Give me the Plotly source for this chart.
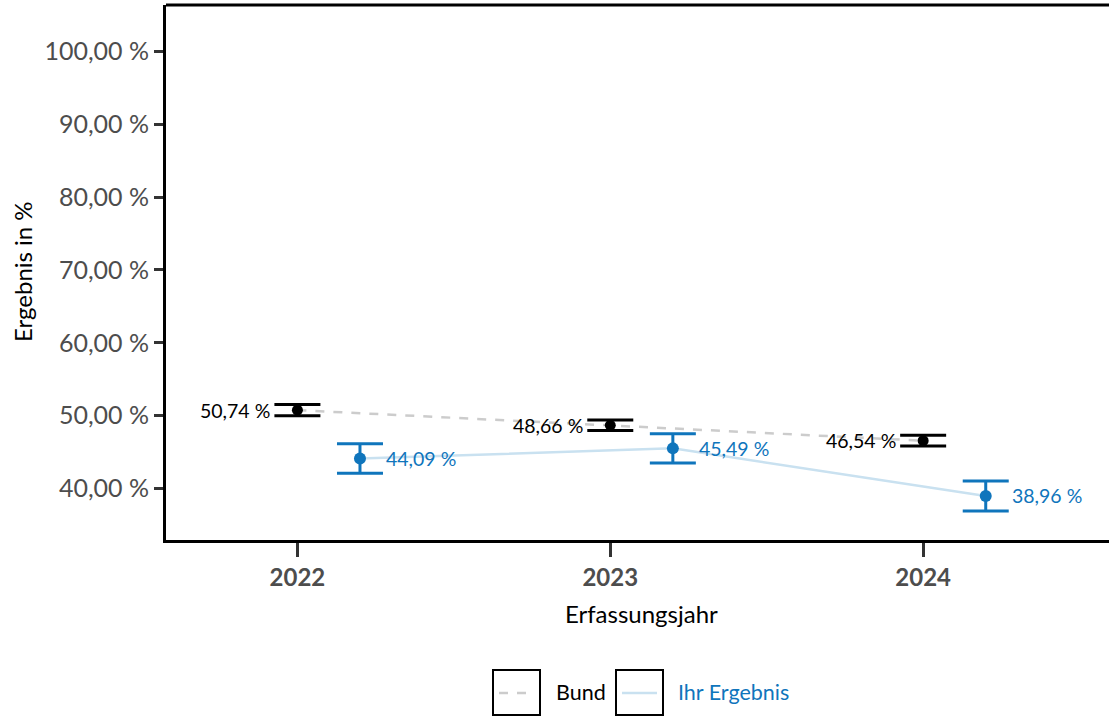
import plotly.graph_objects as go

# ---- data ----
years = [2022, 2023, 2024]
bund_values = [50.74, 48.66, 46.54]
bund_lower = [49.96, 47.93, 45.80]
bund_upper = [51.52, 49.39, 47.28]
ihr_values = [44.09, 45.49, 38.96]
ihr_lower = [42.07, 43.47, 36.90]
ihr_upper = [46.11, 47.51, 41.02]
y_ticks = [40, 50, 60, 70, 80, 90, 100]
series_names = ["Bund", "Ihr Ergebnis"]
x_title = "Erfassungsjahr"
y_title = "Ergebnis in %"

# ---- styles ----
W, H = 1109, 719
L, R, T, B = 166, 0, 5, 179
FONT = "Lato"
BLUE = "#0f75bc"
LIGHTBLUE = "#c9e1f0"
GREY = "#cccccc"
DODGE = 0.2

def fmt(v):
    return f"{v:.2f}".replace(".", ",") + " %"

pw = W - L - R
ph = H - T - B

def px(xp):
    return (xp - L) / pw

def py(yp):
    return (H - B - yp) / ph

ihr_x = [y + DODGE for y in years]

fig = go.Figure()

# connecting lines
fig.add_trace(go.Scatter(x=years, y=bund_values, mode="lines",
                         line=dict(color=GREY, width=2.5, dash="dash"),
                         showlegend=False, hoverinfo="skip"))
fig.add_trace(go.Scatter(x=ihr_x, y=ihr_values, mode="lines",
                         line=dict(color=LIGHTBLUE, width=2.5),
                         showlegend=False, hoverinfo="skip"))

# points with error bars
fig.add_trace(go.Scatter(
    x=years, y=bund_values, mode="markers",
    marker=dict(color="black", size=11),
    error_y=dict(type="data", symmetric=False,
                 array=[u - v for u, v in zip(bund_upper, bund_values)],
                 arrayminus=[v - l for v, l in zip(bund_values, bund_lower)],
                 color="black", thickness=3, width=23),
    name=series_names[0], showlegend=False))
fig.add_trace(go.Scatter(
    x=ihr_x, y=ihr_values, mode="markers",
    marker=dict(color=BLUE, size=12),
    error_y=dict(type="data", symmetric=False,
                 array=[u - v for u, v in zip(ihr_upper, ihr_values)],
                 arrayminus=[v - l for v, l in zip(ihr_values, ihr_lower)],
                 color=BLUE, thickness=3, width=23),
    name=series_names[1], showlegend=False))

annotations = []
for x, v in zip(years, bund_values):
    annotations.append(dict(x=x, y=v, xref="x", yref="y", text=fmt(v),
                            showarrow=False, xanchor="right", yanchor="middle",
                            xshift=-25, font=dict(family=FONT, size=19.5, color="black")))
for x, v in zip(ihr_x, ihr_values):
    annotations.append(dict(x=x, y=v, xref="x", yref="y", text=fmt(v),
                            showarrow=False, xanchor="left", yanchor="middle",
                            xshift=24, font=dict(family=FONT, size=19.5, color=BLUE)))

# axis titles
annotations.append(dict(x=px(641), y=py(613), xref="paper", yref="paper", text=x_title,
                        showarrow=False, xanchor="center", yanchor="middle",
                        font=dict(family=FONT, size=24, color="black")))
annotations.append(dict(x=px(22), y=py(272), xref="paper", yref="paper", text=y_title,
                        showarrow=False, xanchor="center", yanchor="middle", textangle=-90,
                        font=dict(family=FONT, size=24, color="black")))

# manual legend
shapes = []
boxes = [(493, 540), (616, 663)]
for (x0, x1) in boxes:
    shapes.append(dict(type="rect", xref="paper", yref="paper",
                       x0=px(x0), x1=px(x1), y0=py(715), y1=py(670),
                       line=dict(color="black", width=2), fillcolor="white"))
shapes.append(dict(type="line", xref="paper", yref="paper",
                   x0=px(499), x1=px(534), y0=py(693), y1=py(693),
                   line=dict(color=GREY, width=2.5, dash="dash")))
shapes.append(dict(type="line", xref="paper", yref="paper",
                   x0=px(622), x1=px(657), y0=py(693), y1=py(693),
                   line=dict(color=LIGHTBLUE, width=2.5)))
annotations.append(dict(x=px(554), y=py(692), xref="paper", yref="paper", text=series_names[0],
                        showarrow=False, xanchor="left", yanchor="middle",
                        font=dict(family=FONT, size=21.5, color="black")))
annotations.append(dict(x=px(676), y=py(692), xref="paper", yref="paper", text=series_names[1],
                        showarrow=False, xanchor="left", yanchor="middle",
                        font=dict(family=FONT, size=21.5, color=BLUE)))
# top border
shapes.append(dict(type="line", xref="paper", yref="paper", x0=0, x1=1, y0=1, y1=1,
                   line=dict(color="black", width=3)))

fig.update_layout(
    width=W, height=H,
    margin=dict(l=L, r=R, t=T, b=B, pad=0),
    paper_bgcolor="white", plot_bgcolor="white",
    showlegend=False,
    annotations=annotations, shapes=shapes,
    xaxis=dict(range=[2021.58, 2024.594], tickvals=years, ticktext=[str(y) for y in years],
               showgrid=False, zeroline=False, showline=True, linecolor="black", linewidth=3,
               ticks="outside", ticklen=14, tickwidth=3, tickcolor="#333333",
               tickfont=dict(family=FONT, size=24, color="#4d4d4d", weight="bold")),
    yaxis=dict(range=[32.9, 106.41], tickvals=y_ticks, ticktext=[fmt(v) for v in y_ticks],
               showgrid=False, zeroline=False, showline=True, linecolor="black", linewidth=3,
               ticks="outside", ticklen=9, tickwidth=3, tickcolor="#333333",
               tickfont=dict(family=FONT, size=25, color="#4d4d4d")),
)

fig.write_html("out.html", config={"displayModeBar": False},
               post_script="document.body.style.margin='0';document.body.style.overflow='hidden';")
